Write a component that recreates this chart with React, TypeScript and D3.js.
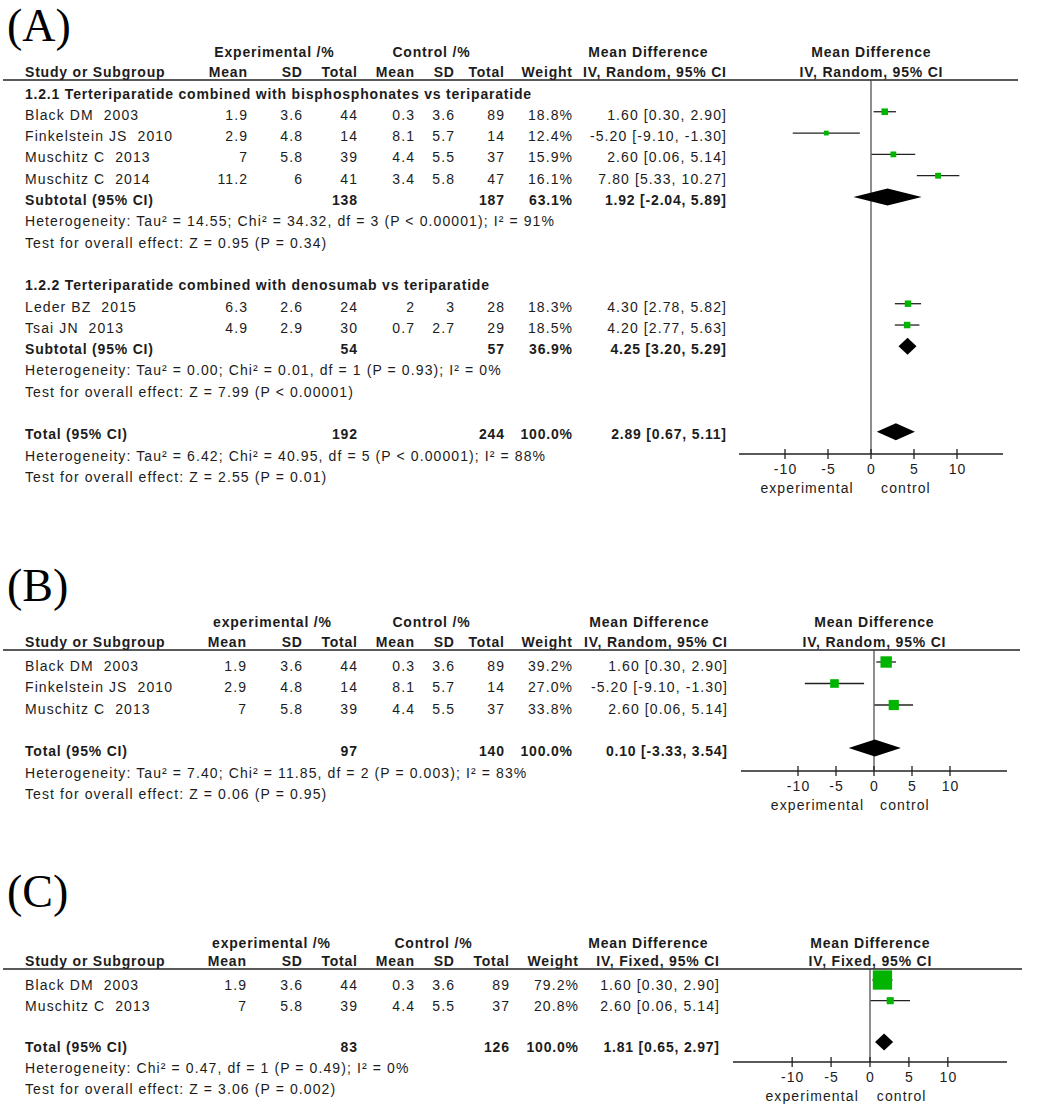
import React from "react";
import * as d3 from "d3";

// ---------- DATA ----------
// study tuple: name, expMean, expSD, expTotal, ctlMean, ctlSD, ctlTotal, weight%, MD, lower, upper
type Study = [string, number, number, number, number, number, number, number, number, number, number];
// summary tuple: label, expTotal, ctlTotal, weight%, MD, lower, upper
type Summary = [string, number, number, number, number, number, number];

const subgroupA1Title = "1.2.1 Terteriparatide combined with bisphosphonates vs teriparatide";
const studiesA1: Study[] = [
  ["Black DM  2003", 1.9, 3.6, 44, 0.3, 3.6, 89, 18.8, 1.6, 0.3, 2.9],
  ["Finkelstein JS  2010", 2.9, 4.8, 14, 8.1, 5.7, 14, 12.4, -5.2, -9.1, -1.3],
  ["Muschitz C  2013", 7, 5.8, 39, 4.4, 5.5, 37, 15.9, 2.6, 0.06, 5.14],
  ["Muschitz C  2014", 11.2, 6, 41, 3.4, 5.8, 47, 16.1, 7.8, 5.33, 10.27],
];
const subtotalA1: Summary = ["Subtotal (95% CI)", 138, 187, 63.1, 1.92, -2.04, 5.89];
const statsA1 = [
  "Heterogeneity: Tau² = 14.55; Chi² = 34.32, df = 3 (P < 0.00001); I² = 91%",
  "Test for overall effect: Z = 0.95 (P = 0.34)",
];

const subgroupA2Title = "1.2.2 Terteriparatide combined with denosumab vs teriparatide";
const studiesA2: Study[] = [
  ["Leder BZ  2015", 6.3, 2.6, 24, 2, 3, 28, 18.3, 4.3, 2.78, 5.82],
  ["Tsai JN  2013", 4.9, 2.9, 30, 0.7, 2.7, 29, 18.5, 4.2, 2.77, 5.63],
];
const subtotalA2: Summary = ["Subtotal (95% CI)", 54, 57, 36.9, 4.25, 3.2, 5.29];
const statsA2 = [
  "Heterogeneity: Tau² = 0.00; Chi² = 0.01, df = 1 (P = 0.93); I² = 0%",
  "Test for overall effect: Z = 7.99 (P < 0.00001)",
];
const totalA: Summary = ["Total (95% CI)", 192, 244, 100.0, 2.89, 0.67, 5.11];
const statsTotalA = [
  "Heterogeneity: Tau² = 6.42; Chi² = 40.95, df = 5 (P < 0.00001); I² = 88%",
  "Test for overall effect: Z = 2.55 (P = 0.01)",
];

const studiesB: Study[] = [
  ["Black DM  2003", 1.9, 3.6, 44, 0.3, 3.6, 89, 39.2, 1.6, 0.3, 2.9],
  ["Finkelstein JS  2010", 2.9, 4.8, 14, 8.1, 5.7, 14, 27.0, -5.2, -9.1, -1.3],
  ["Muschitz C  2013", 7, 5.8, 39, 4.4, 5.5, 37, 33.8, 2.6, 0.06, 5.14],
];
const totalB: Summary = ["Total (95% CI)", 97, 140, 100.0, 0.1, -3.33, 3.54];
const statsB = [
  "Heterogeneity: Tau² = 7.40; Chi² = 11.85, df = 2 (P = 0.003); I² = 83%",
  "Test for overall effect: Z = 0.06 (P = 0.95)",
];

const studiesC: Study[] = [
  ["Black DM  2003", 1.9, 3.6, 44, 0.3, 3.6, 89, 79.2, 1.6, 0.3, 2.9],
  ["Muschitz C  2013", 7, 5.8, 39, 4.4, 5.5, 37, 20.8, 2.6, 0.06, 5.14],
];
const totalC: Summary = ["Total (95% CI)", 83, 126, 100.0, 1.81, 0.65, 2.97];
const statsC = [
  "Heterogeneity: Chi² = 0.47, df = 1 (P = 0.49); I² = 0%",
  "Test for overall effect: Z = 3.06 (P = 0.002)",
];

const axisTicks = [-10, -5, 0, 5, 10];
const favourLabels = ["experimental", "control"];
const panelLabels = ["(A)", "(B)", "(C)"];
const expHeaders = ["Experimental /%", "experimental /%", "experimental /%"];
const ctlHeader = "Control /%";
const methods = ["IV, Random, 95% CI", "IV, Random, 95% CI", "IV, Fixed, 95% CI"];

// ---------- LAYOUT ----------
type Row =
  | { kind: "group"; text: string }
  | { kind: "study"; s: Study }
  | { kind: "summary"; s: Summary }
  | { kind: "note"; text: string }
  | { kind: "blank" };

const studyRows = (a: Study[]): Row[] => a.map((s) => ({ kind: "study", s }));
const noteRows = (a: string[]): Row[] => a.map((text) => ({ kind: "note", text }));

const rowsA: Row[] = [
  { kind: "group", text: subgroupA1Title },
  ...studyRows(studiesA1),
  { kind: "summary", s: subtotalA1 },
  ...noteRows(statsA1),
  { kind: "blank" },
  { kind: "group", text: subgroupA2Title },
  ...studyRows(studiesA2),
  { kind: "summary", s: subtotalA2 },
  ...noteRows(statsA2),
  { kind: "blank" },
  { kind: "summary", s: totalA },
  ...noteRows(statsTotalA),
];
const rowsB: Row[] = [...studyRows(studiesB), { kind: "blank" }, { kind: "summary", s: totalB }, ...noteRows(statsB)];
const rowsC: Row[] = [...studyRows(studiesC), { kind: "blank" }, { kind: "summary", s: totalC }, ...noteRows(statsC)];

interface Cfg {
  labelY: number; h1: number; h2: number; lineY: number; lineX: [number, number];
  cols: number[]; expCenter: number; ctlCenter: number; mdCenter: number;
  text0: number; pitch: number; mark0: number; mpitch: number;
  axisY: number; xDomain: [number, number]; xRange: [number, number];
}

const cfgA: Cfg = {
  labelY: 41, h1: 57, h2: 77, lineY: 80, lineX: [3, 1018],
  cols: [25, 247, 302, 357, 414, 454, 504, 572, 726], expCenter: 274, ctlCenter: 431, mdCenter: 648,
  text0: 93.5, pitch: 21.3, mark0: 90.4, mpitch: 21.33,
  axisY: 454, xDomain: [-15.35, 15.35], xRange: [739, 1003],
};
const cfgB: Cfg = {
  labelY: 601, h1: 627, h2: 647, lineY: 650, lineX: [3, 1020],
  cols: [25, 246, 302, 357, 414, 454, 504, 572, 727], expCenter: 272, ctlCenter: 431, mdCenter: 649,
  text0: 666, pitch: 21.3, mark0: 662, mpitch: 21.5,
  axisY: 771, xDomain: [-17.5, 17.5], xRange: [741, 1007],
};
const cfgC: Cfg = {
  labelY: 907, h1: 948, h2: 966, lineY: 969, lineX: [3, 1022],
  cols: [25, 246, 302, 357, 414, 454, 509, 578, 719], expCenter: 271, ctlCenter: 433, mdCenter: 648,
  text0: 985, pitch: 20.7, mark0: 980, mpitch: 20.7,
  axisY: 1062, xDomain: [-17.6, 17.6], xRange: [733, 1007],
};

const FONT = "'Liberation Sans', Arial, Helvetica, sans-serif";
const SERIF = "'Liberation Serif', 'Times New Roman', serif";
const INK = "#1c1c1c";
const GREEN = "#00b400";

const fmt = (v: number) => String(v);
const ci = (m: number, l: number, h: number) => `${m.toFixed(2)} [${l.toFixed(2)}, ${h.toFixed(2)}]`;

function T(props: { x: number; y: number; anchor?: "start" | "middle" | "end"; bold?: boolean; children: React.ReactNode }) {
  const { x, y, anchor = "start", bold = false, children } = props;
  const ls = bold ? 0.8 : 1.1;
  const dx = anchor === "end" ? ls : anchor === "middle" ? ls / 2 : 0;
  return (
    <text
      x={x + dx}
      y={y}
      textAnchor={anchor}
      fontFamily={FONT}
      fontSize={14}
      fontWeight={bold ? "bold" : "normal"}
      fill={INK}
      xmlSpace="preserve"
      style={{ letterSpacing: `${ls}px`, whiteSpace: "pre" }}
    >
      {children}
    </text>
  );
}

function Panel({ cfg, rows, idx }: { cfg: Cfg; rows: Row[]; idx: number }) {
  const x = d3.scaleLinear().domain(cfg.xDomain).range(cfg.xRange);
  const ty = d3.scaleLinear().domain([0, 1]).range([cfg.text0, cfg.text0 + cfg.pitch]);
  const my = d3.scaleLinear().domain([0, 1]).range([cfg.mark0, cfg.mark0 + cfg.mpitch]);
  const size = d3.scalePow().exponent(0.75).domain([0, 100]).range([0, 23]);
  const c = cfg.cols;
  const dh = 17;
  const diamond = (m: number, l: number, h: number, y: number) =>
    d3.line()([[x(l), y], [x(m), y - dh / 2], [x(h), y], [x(m), y + dh / 2]]) + "Z";

  return (
    <g>
      <text x={7} y={cfg.labelY} fontFamily={SERIF} fontSize={46} fill="#000">
        {panelLabels[idx]}
      </text>
      {/* headers */}
      <T x={cfg.expCenter} y={cfg.h1} anchor="middle" bold>{expHeaders[idx]}</T>
      <T x={cfg.ctlCenter} y={cfg.h1} anchor="middle" bold>{ctlHeader}</T>
      <T x={cfg.mdCenter} y={cfg.h1} anchor="middle" bold>Mean Difference</T>
      <T x={x(0)} y={cfg.h1} anchor="middle" bold>Mean Difference</T>
      <T x={c[0]} y={cfg.h2} bold>Study or Subgroup</T>
      <T x={c[1]} y={cfg.h2} anchor="end" bold>Mean</T>
      <T x={c[2]} y={cfg.h2} anchor="end" bold>SD</T>
      <T x={c[3]} y={cfg.h2} anchor="end" bold>Total</T>
      <T x={c[4]} y={cfg.h2} anchor="end" bold>Mean</T>
      <T x={c[5]} y={cfg.h2} anchor="end" bold>SD</T>
      <T x={c[6]} y={cfg.h2} anchor="end" bold>Total</T>
      <T x={c[7]} y={cfg.h2} anchor="end" bold>Weight</T>
      <T x={c[8]} y={cfg.h2} anchor="end" bold>{methods[idx]}</T>
      <T x={x(0)} y={cfg.h2} anchor="middle" bold>{methods[idx]}</T>
      <line x1={cfg.lineX[0]} x2={cfg.lineX[1]} y1={cfg.lineY} y2={cfg.lineY} stroke="#222" strokeWidth={1.5} />
      {/* zero line */}
      <line x1={x(0)} x2={x(0)} y1={cfg.lineY} y2={cfg.axisY} stroke="#444" strokeWidth={1.2} />
      {/* rows */}
      {rows.map((r, i) => {
        const yb = ty(i) + 5;
        const ym = my(i);
        if (r.kind === "group") return <T key={i} x={c[0]} y={yb} bold>{r.text}</T>;
        if (r.kind === "note") return <T key={i} x={c[0]} y={yb}>{r.text}</T>;
        if (r.kind === "study") {
          const s = r.s;
          const sz = size(s[7]);
          return (
            <g key={i}>
              <T x={c[0]} y={yb}>{s[0]}</T>
              <T x={c[1]} y={yb} anchor="end">{fmt(s[1])}</T>
              <T x={c[2]} y={yb} anchor="end">{fmt(s[2])}</T>
              <T x={c[3]} y={yb} anchor="end">{fmt(s[3])}</T>
              <T x={c[4]} y={yb} anchor="end">{fmt(s[4])}</T>
              <T x={c[5]} y={yb} anchor="end">{fmt(s[5])}</T>
              <T x={c[6]} y={yb} anchor="end">{fmt(s[6])}</T>
              <T x={c[7]} y={yb} anchor="end">{s[7].toFixed(1) + "%"}</T>
              <T x={c[8]} y={yb} anchor="end">{ci(s[8], s[9], s[10])}</T>
              <line x1={x(s[9])} x2={x(s[10])} y1={ym} y2={ym} stroke="#222" strokeWidth={1.3} />
              <rect x={x(s[8]) - sz / 2} y={ym - sz / 2} width={sz} height={sz} fill={GREEN} />
            </g>
          );
        }
        if (r.kind === "summary") {
          const s = r.s;
          return (
            <g key={i}>
              <T x={c[0]} y={yb} bold>{s[0]}</T>
              <T x={c[3]} y={yb} anchor="end" bold>{fmt(s[1])}</T>
              <T x={c[6]} y={yb} anchor="end" bold>{fmt(s[2])}</T>
              <T x={c[7]} y={yb} anchor="end" bold>{s[3].toFixed(1) + "%"}</T>
              <T x={c[8]} y={yb} anchor="end" bold>{ci(s[4], s[5], s[6])}</T>
              <path d={diamond(s[4], s[5], s[6], ym)} fill="#000" />
            </g>
          );
        }
        return null;
      })}
      {/* axis */}
      <line x1={cfg.xRange[0]} x2={cfg.xRange[1]} y1={cfg.axisY} y2={cfg.axisY} stroke="#222" strokeWidth={1.3} />
      {axisTicks.map((t) => (
        <g key={t}>
          <line x1={x(t)} x2={x(t)} y1={cfg.axisY - 5} y2={cfg.axisY + 5} stroke="#222" strokeWidth={1.3} />
          <T x={x(t)} y={cfg.axisY + 20} anchor="middle">{String(t)}</T>
        </g>
      ))}
      <T x={x(-7.5)} y={cfg.axisY + 39} anchor="middle">{favourLabels[0]}</T>
      <T x={x(4)} y={cfg.axisY + 39} anchor="middle">{favourLabels[1]}</T>
    </g>
  );
}

export default function App() {
  return (
    <svg
      width={1045}
      height={1106}
      viewBox="0 0 1045 1106"
      style={{ position: "absolute", left: 0, top: 0, background: "#fff", display: "block" }}
    >
      <rect x={0} y={0} width={1045} height={1106} fill="#fff" />
      <Panel cfg={cfgA} rows={rowsA} idx={0} />
      <Panel cfg={cfgB} rows={rowsB} idx={1} />
      <Panel cfg={cfgC} rows={rowsC} idx={2} />
    </svg>
  );
}
